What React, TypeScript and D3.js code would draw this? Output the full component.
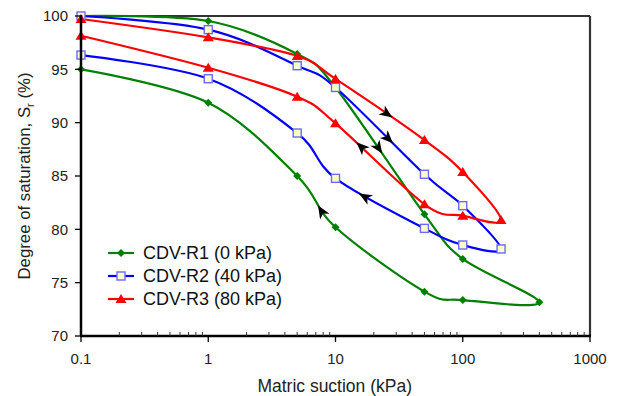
import React from 'react';
import * as d3 from 'd3';

const W = 624;
const H = 396;
const PLOT = { left: 81, right: 590, top: 16, bottom: 336 };

// Data: drying path then wetting path (suction kPa, degree of saturation %)
const r1Suction = [0.1, 1, 5, 10, 50, 100, 400, 100, 50, 10, 5, 1, 0.1];
const r1Saturation = [100, 99.53, 96.44, 93.3, 81.41, 77.22, 73.16, 73.37, 74.16, 80.19, 85.0, 91.87, 95.0];
const r2Suction = [0.1, 1, 5, 10, 50, 100, 200, 100, 50, 10, 5, 1, 0.1];
const r2Saturation = [100, 98.72, 95.34, 93.3, 85.16, 82.22, 78.16, 78.53, 80.09, 84.78, 89.03, 94.12, 96.34];
const r3Suction = [0.1, 1, 5, 10, 50, 100, 200, 100, 50, 10, 5, 1, 0.1];
const r3Saturation = [99.72, 98.0, 96.25, 94.1, 88.37, 85.37, 80.88, 81.28, 82.35, 89.94, 92.44, 95.15, 98.15];

const seriesNames = ['CDV-R1 (0 kPa)', 'CDV-R2 (40 kPa)', 'CDV-R3 (80 kPa)'];
const seriesColors = ['#008000', '#0000ff', '#ff0000'];

const xTicks = [0.1, 1, 10, 100, 1000];
const xTickLabels = ['0.1', '1', '10', '100', '1000'];
const yTicks = [70, 75, 80, 85, 90, 95, 100];

// Direction arrows: series index, segment index along the series, suction where arrow sits
const arrowSeries = [2, 1, 0, 2, 1, 0];
const arrowSegment = [3, 3, 3, 8, 8, 9];
const arrowSuction = [26.4, 26.9, 22.4, 15.4, 16.3, 7.57];

const FONT = '"Liberation Sans", Arial, sans-serif';

type P = [number, number];

function segmentBezier(pts: P[], i: number, k: number): [P, P, P, P] {
  const p1 = pts[i];
  const p2 = pts[i + 1];
  const p0 = i === 0 ? p2 : pts[i - 1];
  const p3 = i + 2 >= pts.length ? p1 : pts[i + 2];
  const c1: P = [p1[0] + k * (p2[0] - p0[0]), p1[1] + k * (p2[1] - p0[1])];
  const c2: P = [p2[0] + k * (p1[0] - p3[0]), p2[1] + k * (p1[1] - p3[1])];
  return [p1, c1, c2, p2];
}

function bez(b: [P, P, P, P], t: number): P {
  const u = 1 - t;
  const a = u * u * u, bb = 3 * u * u * t, c = 3 * u * t * t, d = t * t * t;
  return [
    a * b[0][0] + bb * b[1][0] + c * b[2][0] + d * b[3][0],
    a * b[0][1] + bb * b[1][1] + c * b[2][1] + d * b[3][1],
  ];
}

export default function App() {
  const x = d3.scaleLog().domain([0.1, 1000]).range([PLOT.left, PLOT.right]);
  const y = d3.scaleLinear().domain([70, 100]).range([PLOT.bottom, PLOT.top]);

  const series = [
    { s: r1Suction, v: r1Saturation },
    { s: r2Suction, v: r2Saturation },
    { s: r3Suction, v: r3Saturation },
  ];
  const pixelPts: P[][] = series.map((d) => d.s.map((s, i) => [x(s), y(d.v[i])] as P));

  const tension = 0;
  const line = d3.line<P>().x((d) => d[0]).y((d) => d[1]).curve(d3.curveCardinal.tension(tension));
  const k = (1 - tension) / 6;

  const minorTicks: number[] = [];
  for (let dec = 0.1; dec < 1000; dec *= 10) {
    for (let m = 2; m <= 9; m++) minorTicks.push(+(dec * m).toPrecision(3));
  }

  const marker = (idx: number, cx: number, cy: number, key: string) => {
    if (idx === 0) {
      return <path key={key} d="M0,-4 L4,0 L0,4 L-4,0 Z" transform={`translate(${cx},${cy})`} fill="#008000" />;
    }
    if (idx === 1) {
      return (
        <rect key={key} x={cx - 4} y={cy - 4} width={8} height={8} fill="#ffffcc" stroke="#6a6aff" strokeWidth={1.4} />
      );
    }
    return <path key={key} d="M0,-5 L5.5,4 L-5.5,4 Z" transform={`translate(${cx},${cy})`} fill="#ff0000" />;
  };

  const arrows = arrowSeries.map((si, ai) => {
    const b = segmentBezier(pixelPts[si], arrowSegment[ai], k);
    const tx = x(arrowSuction[ai]);
    let best = 0, bestD = Infinity;
    for (let j = 0; j <= 400; j++) {
      const t = j / 400;
      const p = bez(b, t);
      const dd = Math.abs(p[0] - tx);
      if (dd < bestD) { bestD = dd; best = t; }
    }
    const p = bez(b, best);
    const pa = bez(b, Math.max(0, best - 0.02));
    const pb = bez(b, Math.min(1, best + 0.02));
    const ang = (Math.atan2(pb[1] - pa[1], pb[0] - pa[0]) * 180) / Math.PI;
    return { p, ang };
  });

  const legendY = [253, 276, 299];

  return (
    <svg width={W} height={H} style={{ position: 'absolute', left: 0, top: 0, background: '#fff' }} fontFamily={FONT}>
      <rect x={0} y={0} width={W} height={H} fill="#fff" />

      {/* frame top / right */}
      <line x1={PLOT.left} x2={PLOT.right} y1={PLOT.top} y2={PLOT.top} stroke="#333" strokeWidth={2.2} />
      <line x1={PLOT.right} x2={PLOT.right} y1={PLOT.top} y2={PLOT.bottom} stroke="#333" strokeWidth={2.2} />

      {/* series lines */}
      {pixelPts.map((pts, i) => (
        <path key={`l${i}`} d={line(pts) || ''} fill="none" stroke={seriesColors[i]} strokeWidth={2.2} strokeLinejoin="round" />
      ))}
      {pixelPts.map((pts, i) => (
        <g key={`m${i}`}>{pts.map((p, j) => marker(i, p[0], p[1], `m${i}-${j}`))}</g>
      ))}

      {/* arrows */}
      {arrows.map((a, i) => (
        <path
          key={`a${i}`}
          d="M4,0 L-9,-5.5 L-5.5,0 L-9,5.5 Z"
          transform={`translate(${a.p[0]},${a.p[1]}) rotate(${a.ang})`}
          fill="#000"
        />
      ))}

      {/* axes */}
      <line x1={PLOT.left} x2={PLOT.left} y1={PLOT.top - 1} y2={PLOT.bottom} stroke="#000" strokeWidth={2.5} />
      <line x1={PLOT.left - 1} x2={PLOT.right + 1} y1={PLOT.bottom} y2={PLOT.bottom} stroke="#000" strokeWidth={2.5} />

      {yTicks.map((t) => (
        <g key={`yt${t}`}>
          <line x1={PLOT.left - 6} x2={PLOT.left} y1={y(t)} y2={y(t)} stroke="#000" strokeWidth={1.3} />
          <text x={68} y={y(t)} dy="0.36em" textAnchor="end" fontSize={15} fill="#222">{t}</text>
        </g>
      ))}

      {xTicks.map((t, i) => (
        <g key={`xt${t}`}>
          <line x1={x(t)} x2={x(t)} y1={PLOT.bottom} y2={PLOT.bottom + 6} stroke="#000" strokeWidth={1.3} />
          <text x={x(t)} y={364} textAnchor="middle" fontSize={15} fill="#222">{xTickLabels[i]}</text>
        </g>
      ))}
      {minorTicks.map((t) => (
        <line key={`mt${t}`} x1={x(t)} x2={x(t)} y1={PLOT.bottom} y2={PLOT.bottom - 4} stroke="#333" strokeWidth={1} />
      ))}

      <text x={334.7} y={392} textAnchor="middle" fontSize={17.5} fill="#222">Matric suction (kPa)</text>
      <text transform="translate(29.5,176) rotate(-90)" textAnchor="middle" fontSize={16.8} fill="#222">
        Degree of saturation, S<tspan fontSize={11} dy={4}>r</tspan><tspan dy={-4}> (%)</tspan>
      </text>

      {/* legend */}
      {seriesNames.map((n, i) => (
        <g key={`lg${i}`}>
          <line x1={108} x2={134} y1={legendY[i]} y2={legendY[i]} stroke={seriesColors[i]} strokeWidth={2.2} />
          {marker(i, 121, legendY[i], `lgm${i}`)}
          <text x={143} y={legendY[i] + 6.4} fontSize={18} fill="#111">{n}</text>
        </g>
      ))}
    </svg>
  );
}
